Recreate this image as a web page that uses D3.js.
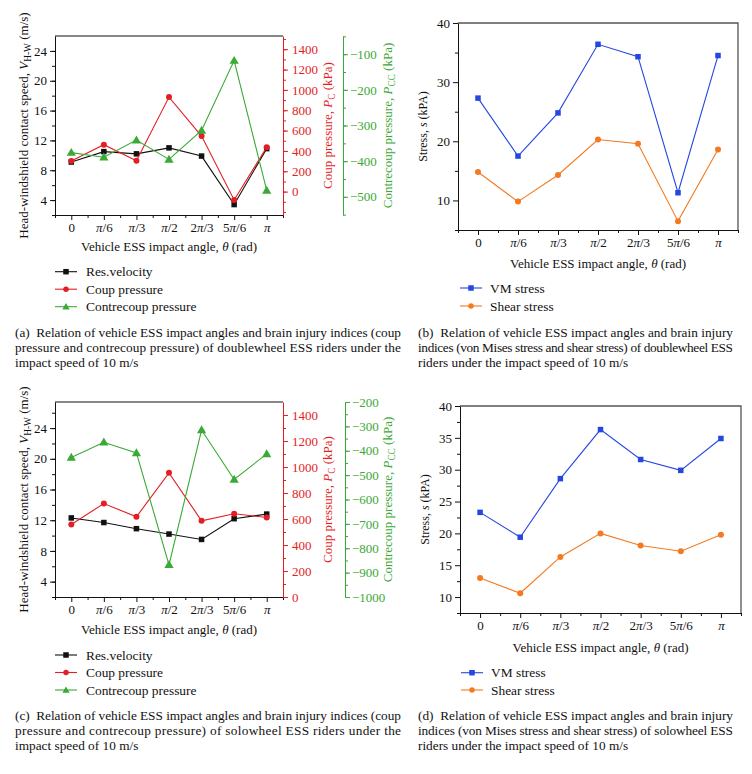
<!DOCTYPE html>
<html><head><meta charset="utf-8">
<script src="https://cdn.jsdelivr.net/npm/d3@7"></script>
<style>
body{margin:0;background:#fff}
text{font-family:"Liberation Serif","Times New Roman",serif}
.cap{white-space:pre}
</style>
</head><body>
<svg id="c" width="752" height="774"></svg>
<script>
// ---------- data ----------
const angles = ["0","π/6","π/3","π/2","2π/3","5π/6","π"];
const dwVelocity   = [9.1, 10.5, 10.2, 11.0, 9.9, 3.4, 10.9];
const dwCoup       = [300, 461, 304, 929, 546, -82, 435];
const dwContrecoup = [-376, -389, -341, -395, -314, -118, -482];
const dwVM         = [27.3, 17.5, 24.8, 36.4, 34.3, 11.3, 34.5];
const dwShear      = [14.8, 9.8, 14.3, 20.3, 19.6, 6.5, 18.6];
const swVelocity   = [12.3, 11.7, 10.9, 10.2, 9.5, 12.2, 12.8];
const swCoup       = [558, 719, 617, 955, 586, 640, 612];
const swContrecoup = [-428, -365, -409, -868, -315, -518, -413];
const swVM         = [23.3, 19.4, 28.6, 36.3, 31.6, 29.9, 34.9];
const swShear      = [13.0, 10.6, 16.3, 20.0, 18.1, 17.2, 19.8];

const velTicks   = [4, 8, 12, 16, 20, 24];
const coupTicks  = [0, 200, 400, 600, 800, 1000, 1200, 1400];
const ccTicksA   = [-500, -400, -300, -200, -100];
const ccTicksC   = [-1000, -900, -800, -700, -600, -500, -400, -300, -200];
const stressTicksB = [10, 20, 30, 40];
const stressTicksD = [10, 15, 20, 25, 30, 35, 40];

const legendTriple = ["Res.velocity", "Coup pressure", "Contrecoup pressure"];
const legendPair = ["VM stress", "Shear stress"];
const xLabel = "Vehicle ESS impact angle, ";

const captionA = ["(a)  Relation of vehicle ESS impact angles and brain injury indices (coup",
  "pressure and contrecoup pressure) of doublewheel ESS riders under the",
  "impact speed of 10 m/s"];
const captionB = ["(b)  Relation of vehicle ESS impact angles and brain injury",
  "indices (von Mises stress and shear stress) of doublewheel ESS",
  "riders under the impact speed of 10 m/s"];
const captionC = ["(c)  Relation of vehicle ESS impact angles and brain injury indices (coup",
  "pressure and contrecoup pressure) of solowheel ESS riders under the",
  "impact speed of 10 m/s"];
const captionD = ["(d)  Relation of vehicle ESS impact angles and brain injury",
  "indices (von Mises stress and shear stress) of solowheel ESS",
  "riders under the impact speed of 10 m/s"];

// ---------- style ----------
const C = {black:"#111", red:"#e31e24", green:"#3aa935", blue:"#2447e0", orange:"#f47a22", frame:"#555"};
const FS = 13;
const svg = d3.select("#c");
const idx = d3.range(angles.length);
const numFmt = d => d < 0 ? "\u2212" + Math.abs(d) : String(d);

function minorTicks(g, scale, vals, orient, color){
  const gen = orient==="left" ? d3.axisLeft(scale) : orient==="right" ? d3.axisRight(scale) : d3.axisBottom(scale);
  g.call(gen.tickValues(vals).tickSize(3).tickFormat(""));
  g.select(".domain").remove();
  g.selectAll("line").attr("stroke", color);
}

function styleAxis(g, color, fs){
  g.select(".domain").attr("stroke", color);
  g.selectAll(".tick line").attr("stroke", color);
  g.selectAll(".tick text").attr("fill", color).style("font-size", fs+"px")
    .style("font-family", '"Liberation Serif",serif');
}

function xAxis(g0, x, y0, fs){
  const g = g0.append("g").attr("transform", `translate(0,${y0})`);
  g.call(d3.axisBottom(x).tickValues(idx).tickFormat(i=>angles[i]).tickSize(5).tickPadding(3).tickSizeOuter(0));
  styleAxis(g, C.black, fs);
  g.selectAll(".tick text").each(function(d){
    const s = angles[d];
    const t = d3.select(this).text(null);
    s.split(/(π)/).filter(p=>p.length).forEach(p=>{
      const ts = t.append("tspan").text(p);
      if(p==="π") ts.style("font-style","italic");
    });
  });
  const m = g0.append("g").attr("transform", `translate(0,${y0})`);
  minorTicks(m, x, d3.range(-0.5, angles.length, 1), "bottom", C.black);
}

function xTitle(g0, cx, y){
  const t = g0.append("text").attr("x", cx).attr("y", y).attr("text-anchor","middle").style("font-size", FS+"px").attr("fill", C.black);
  t.append("tspan").text(xLabel);
  t.append("tspan").style("font-style","italic").text("θ");
  t.append("tspan").text(" (rad)");
}

function marker(g, type, x, y, color, s){
  if(type==="square") g.append("rect").attr("x", x-s/2).attr("y", y-s/2).attr("width", s).attr("height", s).attr("fill", color);
  else if(type==="circle") g.append("circle").attr("cx", x).attr("cy", y).attr("r", s/2).attr("fill", color);
  else g.append("path").attr("d", d3.symbol(d3.symbolTriangle, s*s*0.75)()).attr("transform", `translate(${x},${y+0.6})`).attr("fill", color);
}

function series(g, x, y, vals, color, type, s){
  const line = d3.line().x((d,i)=>x(i)).y(d=>y(d));
  g.append("path").datum(vals).attr("d", line).attr("fill","none").attr("stroke", color).attr("stroke-width", 1.1);
  vals.forEach((v,i)=>marker(g, type, x(i), y(v), color, s));
}

function legend(g, x0, ys, names, colors, types, textX){
  names.forEach((n,i)=>{
    g.append("line").attr("x1", x0).attr("x2", x0+22).attr("y1", ys[i]).attr("y2", ys[i]).attr("stroke", colors[i]).attr("stroke-width", 1.1);
    marker(g, types[i], x0+11, ys[i], colors[i], 5.5);
    g.append("text").attr("x", textX).attr("y", ys[i]+4.5).style("font-size", "13.4px").attr("fill","#111").text(n);
  });
}

function caption(g, x0, x1, y0, lines){
  lines.forEach((l,i)=>{
    const t = g.append("text").attr("class","cap").attr("x", x0).attr("y", y0 + i*15).style("font-size","13.3px").attr("fill","#111").text(l);
    if(i < lines.length-1) t.attr("textLength", x1-x0).attr("lengthAdjust","spacing");
  });
}

function rotLabel(g, x, cy, parts, color){
  const t = g.append("text").attr("transform", `translate(${x},${cy}) rotate(-90)`).attr("text-anchor","middle")
    .style("font-size", FS+"px").attr("fill", color);
  parts.forEach(p=>{
    const ts = t.append("tspan").text(p.t);
    if(p.i) ts.style("font-style","italic");
    if(p.sub) ts.attr("dy", 3).style("font-size", (FS*0.72)+"px");
    if(p.after) ts.attr("dy", -3);
  });
}

// ---------- triple-axis panel ----------
function triplePanel(o){
  const g = svg.append("g");
  const x = d3.scaleLinear().domain([-0.5, 6.5]).range([o.left, o.right]);
  const yV = d3.scaleLinear().domain(o.vDom).range([o.bottom, o.top]);
  const yC = d3.scaleLinear().domain(o.cDom).range([o.bottom, o.top]);
  const yCC = d3.scaleLinear().domain(o.ccDom).range([o.bottom, o.top]);

  g.append("line").attr("x1", o.left).attr("x2", o.right).attr("y1", o.top).attr("y2", o.top).attr("stroke", C.black);

  const gl = g.append("g").attr("transform", `translate(${o.left},0)`);
  gl.call(d3.axisLeft(yV).tickValues(velTicks).tickFormat(numFmt).tickSize(5).tickPadding(3).tickSizeOuter(0));
  styleAxis(gl, C.black, FS);
  minorTicks(g.append("g").attr("transform", `translate(${o.left},0)`), yV, d3.range(Math.ceil(o.vDom[0]/2)*2, o.vDom[1], 2), "left", C.black);

  xAxis(g, x, o.bottom, FS);
  xTitle(g, (o.left+o.right)/2, o.xTitleY);

  const gr = g.append("g").attr("transform", `translate(${o.right},0)`);
  gr.call(d3.axisRight(yC).tickValues(coupTicks).tickFormat(numFmt).tickSize(5).tickPadding(4).tickSizeOuter(0));
  styleAxis(gr, C.red, FS);
  minorTicks(g.append("g").attr("transform", `translate(${o.right},0)`), yC, d3.range(Math.ceil(o.cDom[0]/100)*100, o.cDom[1], 100), "right", C.red);

  const gg = g.append("g").attr("transform", `translate(${o.ccX},0)`);
  gg.call(d3.axisRight(yCC).tickValues(o.ccTicks).tickFormat(numFmt).tickSize(5).tickPadding(2).tickSizeOuter(0));
  styleAxis(gg, C.green, FS);
  minorTicks(g.append("g").attr("transform", `translate(${o.ccX},0)`), yCC, d3.range(Math.ceil(o.ccDom[0]/50)*50, o.ccDom[1], 50), "right", C.green);

  const cy = (o.top+o.bottom)/2;
  rotLabel(g, 28, cy, [{t:"Head-windshield contact speed, "},{t:"V",i:true},{t:"H-W",sub:true},{t:" (m/s)",after:true}], C.black);
  rotLabel(g, 332, cy, [{t:"Coup pressure, "},{t:"P",i:true},{t:"C",sub:true},{t:" (kPa)",after:true}], C.red);
  rotLabel(g, 392, cy, [{t:"Contrecoup pressure, "},{t:"P",i:true},{t:"CC",sub:true},{t:" (kPa)",after:true}], C.green);

  series(g, x, yV, o.vel, C.black, "square", 5.5);
  series(g, x, yC, o.coup, C.red, "circle", 6);
  series(g, x, yCC, o.cc, C.green, "triangle", 7);

  legend(g, 55, o.legY, legendTriple, [C.black, C.red, C.green], ["square","circle","triangle"], 86);
  caption(g, 15, 401, o.capY, o.cap);
}

// ---------- stress panel ----------
function stressPanel(o){
  const g = svg.append("g");
  const x = d3.scaleLinear().domain([-0.5, 6.5]).range([o.left, o.right]);
  const y = d3.scaleLinear().domain(o.dom).range([o.bottom, o.top]);
  g.append("path").attr("d", `M${o.left},${o.top}H${o.right}V${o.bottom}`).attr("fill","none").attr("stroke", C.frame).attr("stroke-width",1.3);
  const gl = g.append("g").attr("transform", `translate(${o.left},0)`);
  gl.call(d3.axisLeft(y).tickValues(o.ticks).tickFormat(numFmt).tickSize(5).tickPadding(3).tickSizeOuter(0));
  styleAxis(gl, C.black, FS);
  minorTicks(g.append("g").attr("transform", `translate(${o.left},0)`), y, o.minor, "left", C.black);
  xAxis(g, x, o.bottom, FS);
  xTitle(g, (o.left+o.right)/2, o.xTitleY);
  const t = g.append("text").attr("transform", `translate(${o.left-31},${(o.top+o.bottom)/2}) rotate(-90)`)
    .attr("text-anchor","middle").style("font-size","12px").attr("fill","#111");
  t.append("tspan").text("Stress, ");
  t.append("tspan").style("font-style","italic").text("s");
  t.append("tspan").text(" (kPA)");
  series(g, x, y, o.vm, C.blue, "square", 5.5);
  series(g, x, y, o.sh, C.orange, "circle", 6);
  legend(g, o.legX, o.legY, legendPair, [C.blue, C.orange], ["square","circle"], o.legX+30);
  caption(g, 418, 733, o.capY, o.cap);
}

triplePanel({left:55, right:283, top:36, bottom:215, ccX:343,
  vDom:[2,26], cDom:[-230,1530], ccDom:[-551,-49], ccTicks:ccTicksA,
  vel:dwVelocity, coup:dwCoup, cc:dwContrecoup,
  xTitleY:251, legY:[271.7,289.2,306.7], capY:336.5, cap:captionA});

triplePanel({left:55, right:283, top:402, bottom:597, ccX:345,
  vDom:[2,27.4], cDom:[0,1500], ccDom:[-1000,-200], ccTicks:ccTicksC,
  vel:swVelocity, coup:swCoup, cc:swContrecoup,
  xTitleY:633.5, legY:[655,672.5,690], capY:720, cap:captionC});

stressPanel({left:458, right:738, top:23, bottom:230, dom:[5,40], ticks:stressTicksB, minor:[5,15,25,35],
  vm:dwVM, sh:dwShear, xTitleY:267.5, legX:460, legY:[288,306], capY:336.5, cap:captionB});

stressPanel({left:460, right:741, top:406, bottom:613, dom:[7.5,40], ticks:stressTicksD, minor:[7.5,12.5,17.5,22.5,27.5,32.5,37.5],
  vm:swVM, sh:swShear, xTitleY:651.5, legX:461, legY:[672.7,690], capY:720, cap:captionD});
</script>
</body></html>
